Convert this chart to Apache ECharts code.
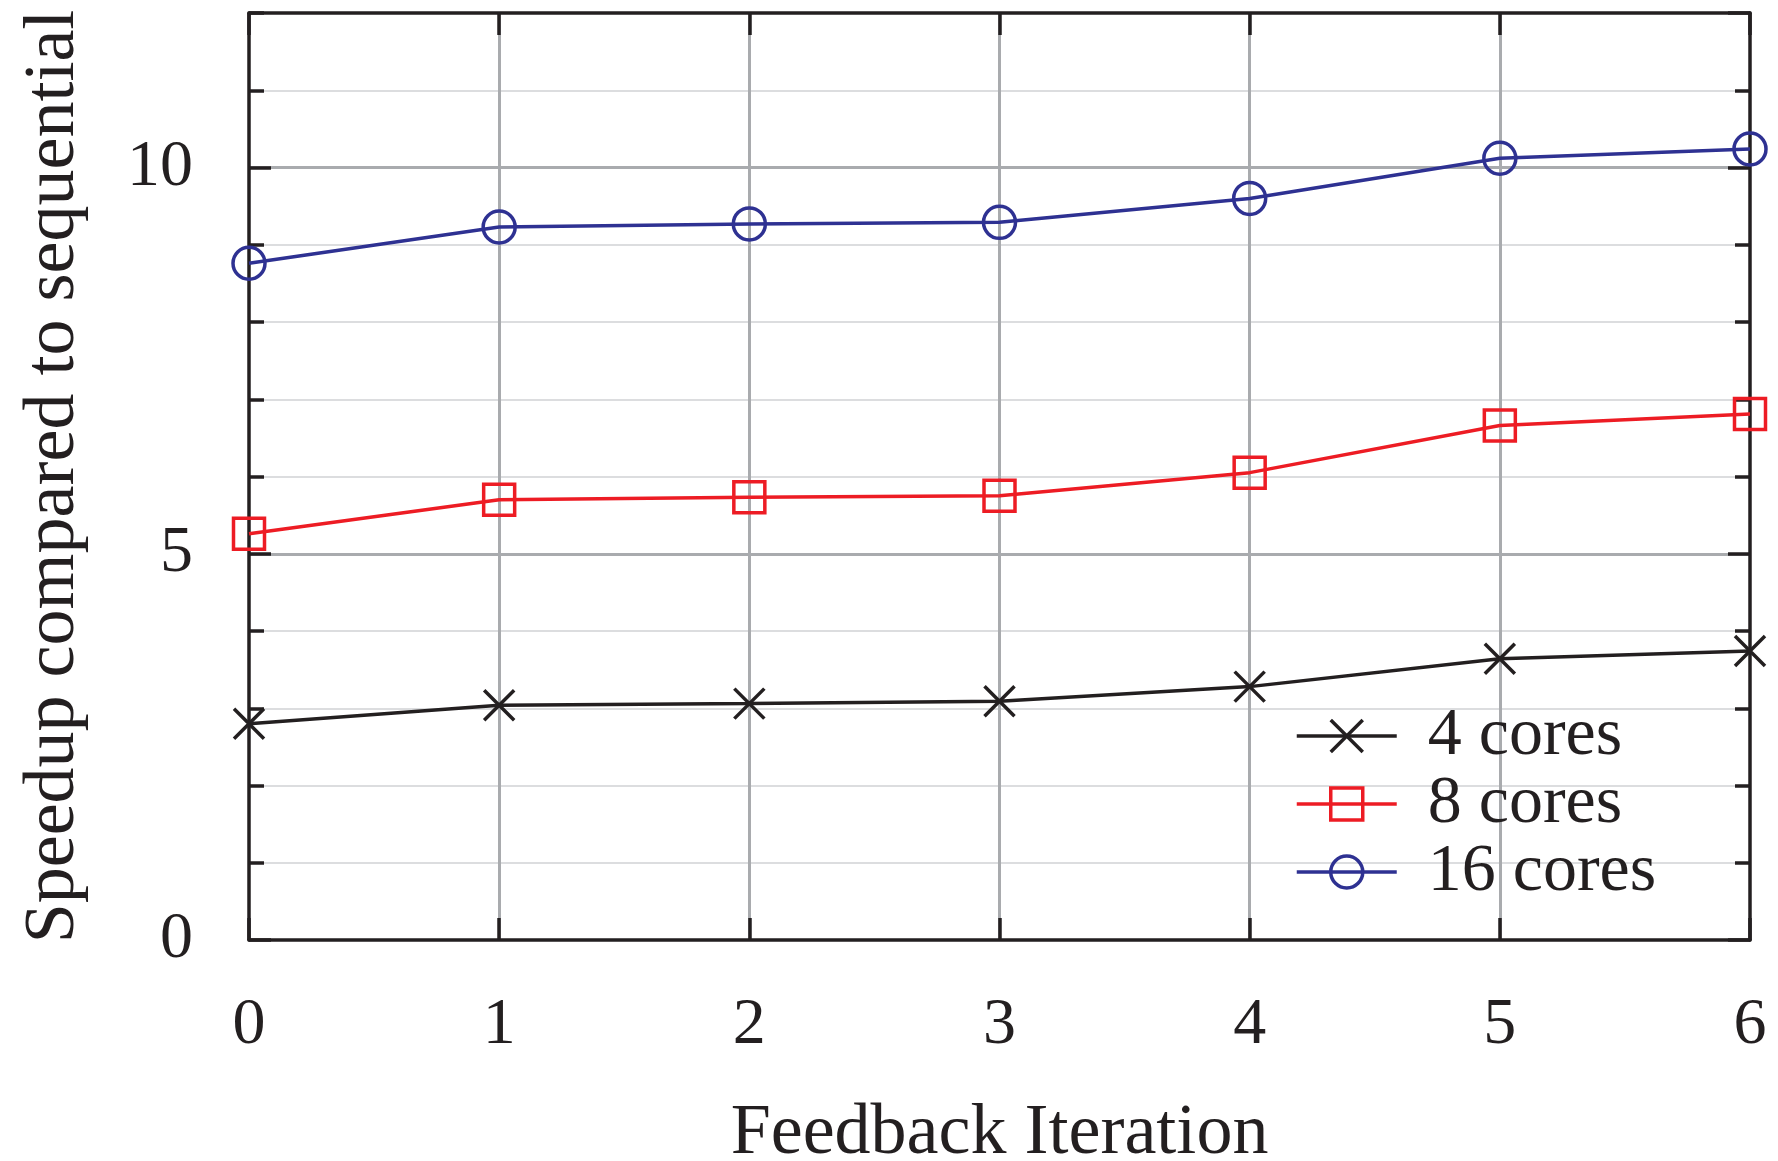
<!DOCTYPE html>
<html>
<head>
<meta charset="utf-8">
<script src="https://cdn.jsdelivr.net/npm/echarts@6/dist/echarts.min.js"></script>
<style>
html,body{margin:0;padding:0;background:#fff;}
#chart{width:1778px;height:1161px;}
</style>
</head>
<body>
<div id="chart"></div>
<script>
const iterations = [0, 1, 2, 3, 4, 5, 6];
const cores4 = [2.80, 3.04, 3.06, 3.09, 3.28, 3.64, 3.74];
const cores8 = [5.26, 5.70, 5.73, 5.75, 6.05, 6.66, 6.81];
const cores16 = [8.76, 9.23, 9.27, 9.29, 9.60, 10.12, 10.24];
const seriesNames = ['4 cores', '8 cores', '16 cores'];
const xTitle = 'Feedback Iteration';
const yTitle = 'Speedup compared to sequential';

const FONT = '"Liberation Serif", "DejaVu Serif", serif';
const INK = '#231f20';
const BLUE = '#2e3192';
const RED = '#ed1c24';
const GRID_MAJOR = '#a9abae';
const GRID_MINOR = '#dcdddf';

function pairs(ys) { return iterations.map((x, i) => [x, ys[i]]); }

const frameLine = { show: true, onZero: false, lineStyle: { color: INK, width: 3.5 } };
const noLine = { show: false, onZero: false };
const majorTick = { show: true, inside: true, length: 22, lineStyle: { color: INK, width: 3.5 } };
const minorTickStyle = { show: true, inside: true, length: 15, lineStyle: { color: INK, width: 3.5 } };

const chart = echarts.init(document.getElementById('chart'), null, { renderer: 'canvas' });
chart.setOption({
  backgroundColor: '#fff',
  animation: false,
  grid: { left: 249, right: 28, top: 13, bottom: 221, containLabel: false, outerBoundsMode: 'none' },
  xAxis: [
    {
      type: 'value', position: 'bottom', min: 0, max: 6, interval: 1, z: 3,
      name: xTitle, nameLocation: 'middle', nameGap: 158,
      nameTextStyle: { fontFamily: FONT, fontSize: 72, color: INK },
      axisLine: frameLine, axisTick: majorTick,
      axisLabel: { fontFamily: FONT, fontSize: 66, color: INK, margin: 53 },
      splitLine: { show: false }
    },
    {
      type: 'value', position: 'top', min: 0, max: 6, interval: 1, z: 3,
      axisLine: frameLine, axisTick: majorTick,
      axisLabel: { show: false }, splitLine: { show: false }
    },
    {
      type: 'value', position: 'bottom', min: 0, max: 6, interval: 1, z: 1,
      axisLine: noLine, axisTick: { show: false }, axisLabel: { show: false },
      splitLine: { show: true, showMinLine: false, showMaxLine: false, lineStyle: { color: GRID_MAJOR, width: 3 } }
    }
  ],
  yAxis: [
    {
      type: 'value', position: 'left', min: 0, max: 12, interval: 5, z: 3,
      name: yTitle, nameLocation: 'middle', nameGap: 159, nameRotate: 90,
      nameTextStyle: { fontFamily: FONT, fontSize: 72, color: INK },
      axisLine: frameLine, axisTick: majorTick,
      axisLabel: { fontFamily: FONT, fontSize: 66, color: INK, margin: 56, showMaxLabel: false },
      splitLine: { show: false }
    },
    {
      type: 'value', position: 'right', min: 0, max: 12, interval: 5, z: 3,
      axisLine: frameLine, axisTick: majorTick,
      axisLabel: { show: false }, splitLine: { show: false }
    },
    {
      type: 'value', position: 'left', min: 0, max: 12, interval: 1, z: 3,
      axisLine: noLine, axisTick: minorTickStyle,
      axisLabel: { show: false }, splitLine: { show: false }
    },
    {
      type: 'value', position: 'right', min: 0, max: 12, interval: 1, z: 3,
      axisLine: noLine, axisTick: minorTickStyle,
      axisLabel: { show: false }, splitLine: { show: false }
    },
    {
      type: 'value', position: 'left', min: 0, max: 12, interval: 1, z: 1,
      axisLine: noLine, axisTick: { show: false }, axisLabel: { show: false },
      splitLine: { show: true, showMinLine: false, showMaxLine: false, lineStyle: { color: GRID_MINOR, width: 2 } }
    },
    {
      type: 'value', position: 'left', min: 0, max: 12, interval: 5, z: 2,
      axisLine: noLine, axisTick: { show: false }, axisLabel: { show: false },
      splitLine: { show: true, showMinLine: false, showMaxLine: false, lineStyle: { color: GRID_MAJOR, width: 3 } }
    }
  ],
  legend: {
    data: seriesNames,
    orient: 'vertical',
    left: 1290, top: 697,
    itemWidth: 100, itemHeight: 40, itemGap: 0,
    textStyle: { fontFamily: FONT, fontSize: 68, color: INK, lineHeight: 68, padding: [0, 0, 0, 26] },
    itemStyle: { borderWidth: 3.5 },
    lineStyle: { width: 3.5 }
  },
  series: [
    {
      name: seriesNames[0], type: 'line', xAxisIndex: 0, yAxisIndex: 0, z: 5,
      data: pairs(cores4),
      symbol: 'path://M0,0L10,10M10,0L0,10', symbolSize: 30,
      lineStyle: { color: INK, width: 3.5 },
      itemStyle: { color: 'rgba(0,0,0,0)', borderColor: INK, borderWidth: 3.5 }
    },
    {
      name: seriesNames[1], type: 'line', xAxisIndex: 0, yAxisIndex: 0, z: 5,
      data: pairs(cores8),
      symbol: 'rect', symbolSize: 31,
      lineStyle: { color: RED, width: 3.5 },
      itemStyle: { color: 'rgba(0,0,0,0)', borderColor: RED, borderWidth: 3.5 }
    },
    {
      name: seriesNames[2], type: 'line', xAxisIndex: 0, yAxisIndex: 0, z: 5,
      data: pairs(cores16),
      symbol: 'circle', symbolSize: 32,
      lineStyle: { color: BLUE, width: 3.5 },
      itemStyle: { color: 'rgba(0,0,0,0)', borderColor: BLUE, borderWidth: 3.5 }
    }
  ]
});
</script>
</body>
</html>
